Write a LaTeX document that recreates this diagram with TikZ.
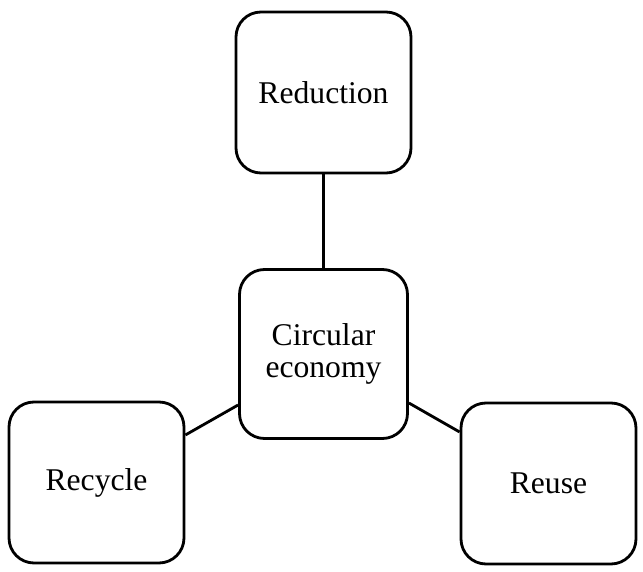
\documentclass[tikz,border=0pt]{standalone}
\usepackage{fontspec}
\setmainfont{Liberation Serif}
\usetikzlibrary{positioning,calc}

\begin{document}
\begin{tikzpicture}[line width=1.6pt,
  pillar/.style={draw,rounded corners=0.5cm,align=center,
    minimum width=3.5cm,minimum height=3.22cm,
    font=\fontsize{18}{18.5}\selectfont},
  hub/.style={pillar,minimum width=3.36cm,minimum height=3.38cm}]

  \useasboundingbox (0,0) rectangle (12.86,-11.44);

  \node[pillar] (reduction) at (6.47,-1.85) {Reduction};
  \node[hub] (circ) at (6.47,-7.08) {Circular\\economy};
  \node[pillar] (recycle) at (1.93,-9.65) {Recycle};
  \node[pillar] (reuse) at (10.97,-9.67) {Reuse};

  \draw (reduction) -- (circ);
  \draw ([yshift=0.95cm]recycle.east) -- ([yshift=-1.02cm]circ.west);
  \draw ([yshift=-0.98cm]circ.east) -- ([yshift=1.03cm]reuse.west);
\end{tikzpicture}
\end{document}
